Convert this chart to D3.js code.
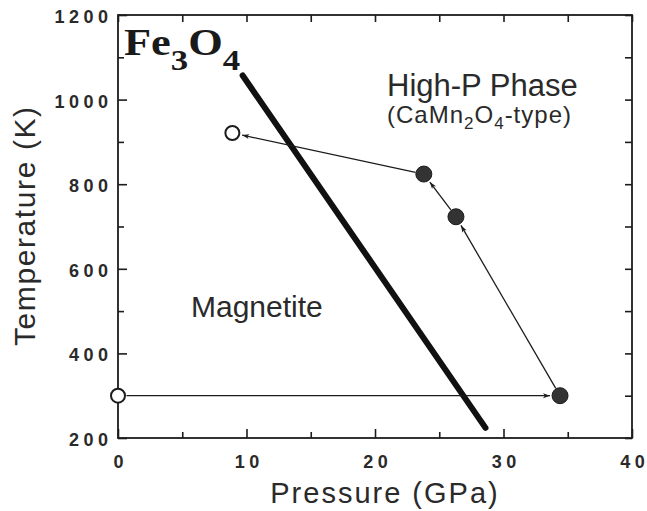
<!DOCTYPE html>
<html>
<head>
<meta charset="utf-8">
<script src="https://cdn.jsdelivr.net/npm/d3@7"></script>
<style>
  html, body { margin: 0; padding: 0; background: #fff; }
  svg { display: block; }
</style>
</head>
<body>
<svg id="chart" width="647" height="511"></svg>
<script>
// ---- Data ----
const xDomain = [0, 40];
const yDomain = [200, 1200];
const xMajorTicks = [0, 10, 20, 30, 40];
const xMinorTicks = [5, 15, 25, 35];
const yMajorTicks = [200, 400, 600, 800, 1000, 1200];
const yMinorTicks = [300, 500, 700, 900, 1100];

// Experimental path (in order of the arrows)
const pathPressure = [0, 34.4, 26.3, 23.8, 8.9];
const pathTemperature = [300, 300, 723, 824, 921];
const pathFilled = [false, true, true, true, false];

// Phase boundary (thick line)
const boundaryPressure = [9.7, 28.6];
const boundaryTemperature = [1057, 224];

const xLabel = "Pressure (GPa)";
const yLabel = "Temperature (K)";

// ---- Layout ----
const svg = d3.select("#chart");
const L = 118, R = 632, T = 15, B = 438;
const x = d3.scaleLinear().domain(xDomain).range([L, R]);
const y = d3.scaleLinear().domain(yDomain).range([B, T]);
const ink = "#1c1c1c";
const txt = "#2a2a2a";
const tickFont = "'Liberation Sans', Arial, sans-serif";
const ls = 4.5;
const spacedDx = s => String(s).split("").map((c, i) => i === 0 ? 0 : ls).join(" ");

// frame
svg.append("rect").attr("x", L).attr("y", T).attr("width", R - L).attr("height", B - T)
  .attr("fill", "none").attr("stroke", ink).attr("stroke-width", 1.8);

function styleAxis(g) {
  g.select(".domain").remove();
  g.selectAll(".tick line").attr("stroke", ink).attr("stroke-width", 1.6);
}

// bottom axis (major with labels)
const gB = svg.append("g").attr("transform", `translate(0,${B})`)
  .call(d3.axisBottom(x).tickValues(xMajorTicks).tickSize(-9).tickPadding(17).tickFormat(d3.format("d")));
styleAxis(gB);
gB.selectAll(".tick text").attr("font-family", tickFont).attr("font-weight", "bold")
  .attr("font-size", 18).attr("fill", txt).attr("dx", d => spacedDx(d));
// bottom minor
styleAxis(svg.append("g").attr("transform", `translate(0,${B})`)
  .call(d3.axisBottom(x).tickValues(xMinorTicks).tickSize(-6).tickFormat("")));
// top axis
styleAxis(svg.append("g").attr("transform", `translate(0,${T})`)
  .call(d3.axisTop(x).tickValues(xMajorTicks.concat(xMinorTicks)).tickSize(-7).tickFormat("")));

// left axis
const gL = svg.append("g").attr("transform", `translate(${L},0)`)
  .call(d3.axisLeft(y).tickValues(yMajorTicks).tickSize(-9).tickPadding(10).tickFormat(d3.format("d")));
styleAxis(gL);
gL.selectAll(".tick text").attr("font-family", tickFont).attr("font-weight", "bold")
  .attr("font-size", 18).attr("fill", txt).attr("dx", d => spacedDx(d)).attr("dy", "0.42em");
styleAxis(svg.append("g").attr("transform", `translate(${L},0)`)
  .call(d3.axisLeft(y).tickValues(yMinorTicks).tickSize(-6).tickFormat("")));
// right axis
styleAxis(svg.append("g").attr("transform", `translate(${R},0)`)
  .call(d3.axisRight(y).tickValues(yMajorTicks.concat(yMinorTicks)).tickSize(-7).tickFormat("")));

// axis labels
svg.append("text").attr("x", 384).attr("y", 503).attr("text-anchor", "middle")
  .attr("font-family", tickFont).attr("font-size", 29).attr("letter-spacing", "2px").attr("dx", 1)
  .attr("fill", txt).text(xLabel);
svg.append("text").attr("transform", "translate(35,226.5) rotate(-90)").attr("text-anchor", "middle")
  .attr("font-family", tickFont).attr("font-size", 30).attr("letter-spacing", "1.6px").attr("dx", 0.8)
  .attr("fill", txt).text(yLabel);

// phase boundary
svg.append("line")
  .attr("x1", x(boundaryPressure[0])).attr("y1", y(boundaryTemperature[0]))
  .attr("x2", x(boundaryPressure[1])).attr("y2", y(boundaryTemperature[1]))
  .attr("stroke", "#111").attr("stroke-width", 6).attr("stroke-linecap", "round");

// arrow marker
svg.append("defs").append("marker").attr("id", "arr")
  .attr("viewBox", "0 -5 10 10").attr("refX", 10).attr("refY", 0)
  .attr("markerWidth", 10).attr("markerHeight", 7).attr("markerUnits", "userSpaceOnUse")
  .attr("orient", "auto")
  .append("path").attr("d", "M0,-3.5L10,0L0,3.5L2.5,0Z").attr("fill", ink);

const pts = pathPressure.map((p, i) => ({ px: x(p), py: y(pathTemperature[i]), filled: pathFilled[i] }));
const r = 7.5;
for (let i = 0; i < pts.length - 1; i++) {
  const a = pts[i], b = pts[i + 1];
  const dx = b.px - a.px, dy = b.py - a.py, d = Math.hypot(dx, dy);
  const ux = dx / d, uy = dy / d;
  svg.append("line")
    .attr("x1", a.px + ux * (r + 1)).attr("y1", a.py + uy * (r + 1))
    .attr("x2", b.px - ux * (r + 2.5)).attr("y2", b.py - uy * (r + 2.5))
    .attr("stroke", ink).attr("stroke-width", 1.3).attr("marker-end", "url(#arr)");
}

svg.selectAll("circle.pt").data(pts).join("circle").attr("class", "pt")
  .attr("cx", d => d.px).attr("cy", d => d.py).attr("r", d => d.filled ? 8 : 7)
  .attr("fill", d => d.filled ? "#333" : "#fff")
  .attr("stroke", ink).attr("stroke-width", d => d.filled ? 1 : 2);

// annotations
const sans = tickFont;
const fe = svg.append("text").attr("transform", "translate(124,55) scale(1.2,1)")
  .attr("font-family", "'Liberation Serif', 'Times New Roman', serif").attr("font-weight", "bold")
  .attr("font-size", 37).attr("fill", "#1a1a1a");
fe.append("tspan").text("Fe");
fe.append("tspan").attr("font-size", 29).attr("dy", 15).text("3");
fe.append("tspan").attr("dy", -15).text("O");
fe.append("tspan").attr("font-size", 29).attr("dy", 15).text("4");

svg.append("text").attr("x", 387).attr("y", 96).attr("font-family", sans).attr("font-size", 31)
  .attr("fill", txt).text("High-P Phase");
const cm = svg.append("text").attr("x", 387).attr("y", 123).attr("font-family", sans).attr("font-size", 24)
  .attr("letter-spacing", "1px").attr("fill", txt);
cm.append("tspan").text("(CaMn");
cm.append("tspan").attr("font-size", 17).attr("dy", 6).text("2");
cm.append("tspan").attr("dy", -6).text("O");
cm.append("tspan").attr("font-size", 17).attr("dy", 6).text("4");
cm.append("tspan").attr("dy", -6).text("-type)");

svg.append("text").attr("x", 191).attr("y", 317).attr("font-family", sans).attr("font-size", 30)
  .attr("fill", txt).text("Magnetite");
</script>
</body>
</html>
